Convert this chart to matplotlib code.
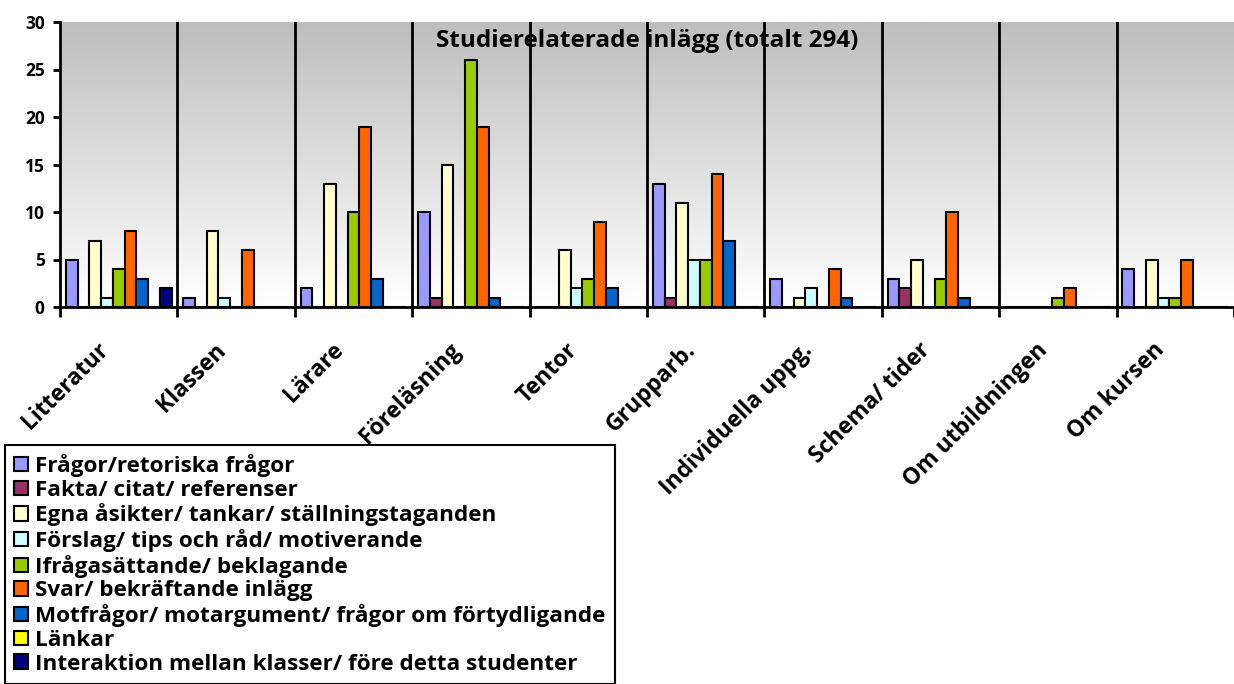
import numpy as np
import matplotlib.pyplot as plt
from matplotlib.patches import Patch
from matplotlib.colors import LinearSegmentedColormap

# Kategorier och serier
kategorier = ['Litteratur', 'Klassen', 'Lärare', 'Föreläsning', 'Tentor',
              'Grupparb.', 'Individuella uppg.', 'Schema/ tider',
              'Om utbildningen', 'Om kursen']

serier = ['Frågor/retoriska frågor',
          'Fakta/ citat/ referenser',
          'Egna åsikter/ tankar/ ställningstaganden',
          'Förslag/ tips och råd/ motiverande',
          'Ifrågasättande/ beklagande',
          'Svar/ bekräftande inlägg',
          'Motfrågor/ motargument/ frågor om förtydligande',
          'Länkar',
          'Interaktion mellan klasser/ före detta studenter']

fragor = [5, 1, 2, 10, 0, 13, 3, 3, 0, 4]
fakta = [0, 0, 0, 1, 0, 1, 0, 2, 0, 0]
egna = [7, 8, 13, 15, 6, 11, 1, 5, 0, 5]
forslag = [1, 1, 0, 0, 2, 5, 2, 0, 0, 1]
ifragasattande = [4, 0, 10, 26, 3, 5, 0, 3, 1, 1]
svar = [8, 6, 19, 19, 9, 14, 4, 10, 2, 5]
motfragor = [3, 0, 3, 1, 2, 7, 1, 1, 0, 0]
lankar = [0, 0, 0, 0, 0, 0, 0, 0, 0, 0]
interaktion = [2, 0, 0, 0, 0, 0, 0, 0, 0, 0]

varden = [fragor, fakta, egna, forslag, ifragasattande, svar,
          motfragor, lankar, interaktion]
farger = ['#9999FF', '#993366', '#FFFFCC', '#CCFFFF', '#99CC00',
          '#FF6600', '#0066CC', '#FFFF00', '#000080']

plt.rcParams['font.family'] = ['Open Sans', 'DejaVu Sans']
plt.rcParams['font.weight'] = 'bold'

fig = plt.figure(figsize=(12.34, 6.84), dpi=100)
ax = fig.add_axes([60/1234, 1 - 307/684, 1 - 60/1234, (307 - 22)/684])

# Gradient i bakgrunden (grå upptill, vit nertill)
grad = np.linspace(0, 1, 256).reshape(-1, 1)
cmap = LinearSegmentedColormap.from_list('g', ['#BEBEBE', '#FFFFFF'])
ax.imshow(grad, cmap=cmap, aspect='auto', extent=[0, 1, 0, 1],
          transform=ax.transAxes, zorder=0)

x = np.arange(len(kategorier))
w = 0.1
for i, (v, c) in enumerate(zip(varden, farger)):
    ax.bar(x - 0.45 + w * (i + 0.5), v, width=w, color=c,
           edgecolor='black', linewidth=1.5, zorder=3)

ax.set_xlim(-0.5, len(kategorier) - 0.5)
ax.set_ylim(0, 30)
ax.set_yticks(range(0, 31, 5))

# Vertikala linjer mellan kategorierna
for b in np.arange(0.5, len(kategorier) - 0.5, 1):
    ax.axvline(b, color='black', linewidth=2, zorder=2)

ax.set_xticks(np.arange(-0.5, len(kategorier), 1))
ax.set_xticklabels([])
ax.tick_params(axis='x', direction='out', length=7, width=2)
ax.tick_params(axis='y', direction='out', length=5, width=2,
               labelsize=12.5, pad=6)
for lab in ax.get_yticklabels():
    lab.set_fontweight('bold')

for s in ['top', 'right']:
    ax.spines[s].set_visible(False)
for s in ['left', 'bottom']:
    ax.spines[s].set_linewidth(2)

for xi, k in zip(x, kategorier):
    ax.text(xi - 0.19, -3.3, k, rotation=45, ha='right', va='top',
            rotation_mode='anchor', fontsize=16.5, fontweight='bold')

ax.text(0.5, 0.935, 'Studierelaterade inlägg (totalt 294)', transform=ax.transAxes,
        ha='center', va='center', fontsize=17.5, fontweight='bold', zorder=4)

handles = [Patch(facecolor=c, edgecolor='black', linewidth=1.5) for c in farger]
leg = fig.legend(handles, serier, loc='upper left',
                 bbox_to_anchor=(5/1234, 1 - 445/684), borderaxespad=0,
                 fancybox=False, edgecolor='black', framealpha=1,
                 handlelength=0.6, handleheight=0.6, handletextpad=0.35,
                 labelspacing=0.12, borderpad=0.4,
                 prop={'weight': 'bold', 'size': 16.2})
leg.get_frame().set_linewidth(1.5)

fig.savefig('out.png', dpi=100)
